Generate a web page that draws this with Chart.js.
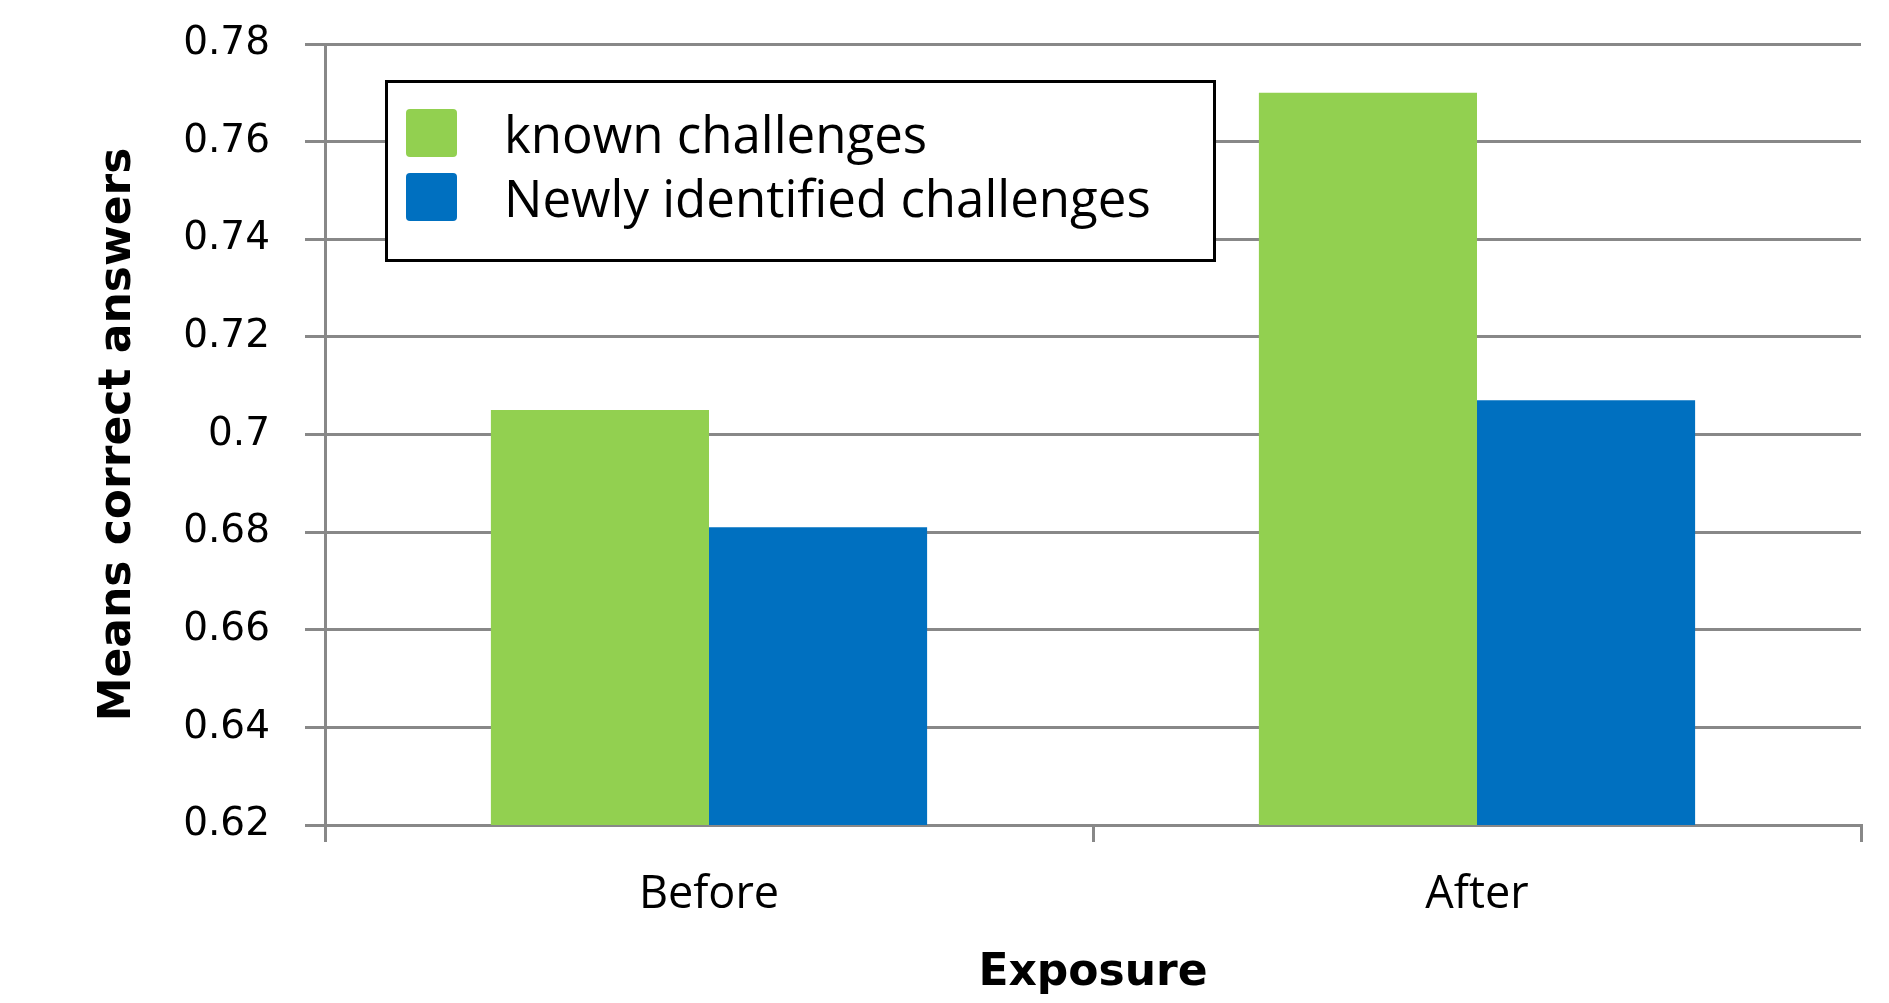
<!DOCTYPE html>
<html>
<head>
<meta charset="utf-8">
<script src="https://cdn.jsdelivr.net/npm/chart.js@4/dist/chart.umd.min.js"></script>
<style>
html,body{margin:0;padding:0;background:#fff;}
#wrap{position:relative;width:1889px;height:1003px;overflow:hidden;}
#c{position:absolute;left:0;top:0;}
#legend{position:absolute;left:385px;top:80px;width:825px;height:176px;border:3px solid #000;background:#fff;font-family:"Open Sans",sans-serif;font-size:51px;color:#000;}
.item{position:absolute;left:18px;display:flex;align-items:center;white-space:nowrap;}
.sw{width:51px;height:48px;border-radius:4px;margin-right:47px;flex:none;}
</style>
</head>
<body>
<div id="wrap">
<canvas id="c" width="1889" height="1003"></canvas>
<div id="legend"></div>
</div>
<script>
const categories = ["Before", "After"];
const knownChallenges = [0.705, 0.770];
const newlyIdentified = [0.681, 0.707];
const seriesNames = ["known challenges", "Newly identified challenges"];
const seriesColors = ["#92D050", "#0070C0"];
const yTickLabels = ["0.62", "0.64", "0.66", "0.68", "0.7", "0.72", "0.74", "0.76", "0.78"];
const xTitle = "Exposure";
const yTitle = "Means correct answers";

const chart = new Chart(document.getElementById('c').getContext('2d'), {
  type: 'bar',
  data: {
    labels: categories,
    datasets: [
      { label: seriesNames[0], data: knownChallenges, backgroundColor: seriesColors[0], borderWidth: 0 },
      { label: seriesNames[1], data: newlyIdentified, backgroundColor: seriesColors[1], borderWidth: 0 }
    ]
  },
  options: {
    responsive: false,
    animation: false,
    devicePixelRatio: 1,
    layout: { padding: { top: 44, right: 28, bottom: 0, left: 0 } },
    plugins: { legend: { display: false }, tooltip: { enabled: false } },
    datasets: { bar: { categoryPercentage: 0.568, barPercentage: 1 } },
    scales: {
      x: {
        grid: { display: true, drawOnChartArea: false, drawTicks: true, tickLength: 17, color: '#888888', lineWidth: 3, offset: true },
        border: { display: true, color: '#888888', width: 3 },
        ticks: { font: { family: 'Open Sans', size: 45 }, color: '#000', padding: 26 },
        title: { display: true, text: xTitle, font: { family: 'DejaVu Sans', size: 44, weight: 'bold' }, color: '#000', padding: { top: 0, bottom: 3 } },
        afterFit(s) { s.height = 178; }
      },
      y: {
        min: 0.62, max: 0.78,
        ticks: {
          stepSize: 0.02,
          font: { family: 'DejaVu Sans', size: 39 }, color: '#000', padding: 35,
          callback: (v) => { const l = yTickLabels.find(t => Math.abs(parseFloat(t) - v) < 1e-6); return l === undefined ? '' : l; }
        },
        grid: { color: '#888888', lineWidth: 3, tickLength: 20, drawTicks: true },
        border: { display: true, color: '#888888', width: 3 },
        title: { display: true, text: yTitle, font: { family: 'DejaVu Sans', size: 44, weight: 'bold' }, color: '#000', padding: { top: 92, bottom: 0 } },
        afterFit(s) { s.width = 325; s.paddingTop = 24; s.paddingBottom = 24; }
      }
    }
  }
});

// HTML legend built from the chart's datasets
const legend = document.getElementById('legend');
const tops = [25, 89];
chart.data.datasets.forEach((ds, i) => {
  const it = document.createElement('div');
  it.className = 'item';
  it.style.top = tops[i] + 'px';
  it.style.height = '49px';
  const sw = document.createElement('span');
  sw.className = 'sw';
  sw.style.background = ds.backgroundColor;
  const tx = document.createElement('span');
  tx.textContent = ds.label;
  it.appendChild(sw); it.appendChild(tx);
  legend.appendChild(it);
});
</script>
</body>
</html>
